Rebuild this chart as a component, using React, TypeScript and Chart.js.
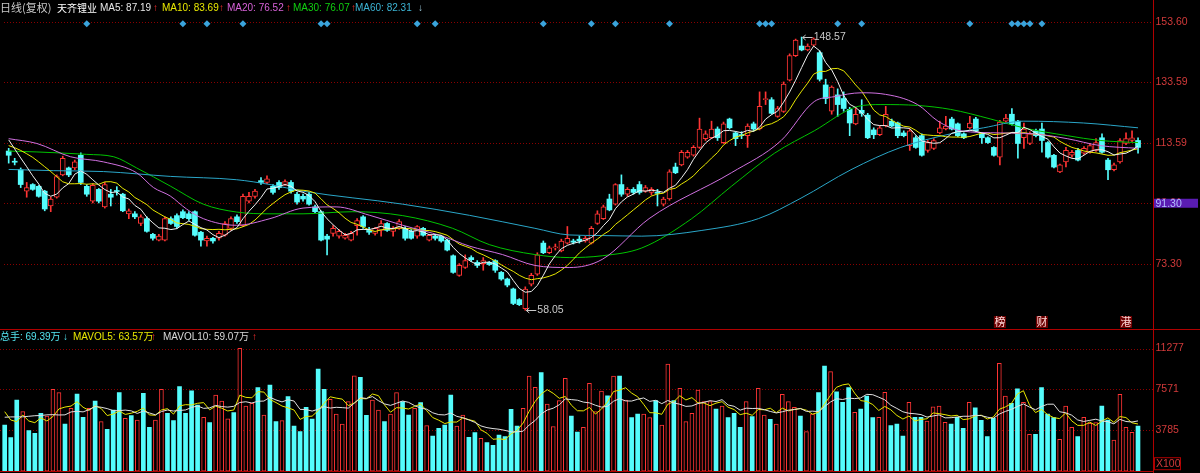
import React, { useEffect, useRef } from "react";
import { Chart, registerables } from "chart.js";

Chart.register(...registerables);

// ---------------- data ----------------
const opens = [
  110.8, 107.3, 104.6, 97.5, 99.7, 99.1, 97.5, 92.6, 95.5, 102.9,
  105.2, 105.2, 109.4, 99.1, 94.2, 98.1, 92.3, 96.5, 97.6, 96.5,
  90.0, 90.0, 86.8, 88.4, 83.2, 81.3, 81.3, 88.4, 89.4, 90.7,
  90.0, 90.7, 83.9, 81.0, 81.9, 81.9, 82.9, 85.2, 89.0, 86.1,
  94.2, 95.8, 101.0, 100.4, 99.1, 100.4, 99.7, 100.4, 96.5, 95.8,
  96.5, 92.3, 90.7, 82.6, 83.5, 82.6, 81.9, 81.3, 86.1, 89.0,
  84.5, 83.5, 84.5, 86.8, 84.2, 85.2, 85.2, 84.2, 82.6, 85.2,
  81.3, 82.6, 82.6, 81.3, 76.1, 69.6, 72.2, 75.5, 73.9, 73.5,
  73.9, 74.5, 70.6, 68.4, 65.1, 61.6, 58.6, 66.7, 70.0, 80.3,
  77.1, 78.7, 77.7, 80.3, 81.0, 81.6, 81.0, 80.3, 86.8, 88.4,
  94.9, 93.2, 99.7, 96.5, 98.1, 99.7, 97.5, 97.1, 97.1, 93.2,
  94.9, 105.5, 106.2, 108.8, 109.4, 112.0, 114.9, 115.2, 118.1, 113.6,
  121.4, 116.8, 116.2, 115.9, 119.8, 118.1, 127.8, 127.8, 122.3, 123.9,
  134.3, 142.4, 145.6, 144.3, 145.9, 143.4, 132.7, 124.0, 129.4, 128.2,
  124.6, 119.8, 124.3, 122.7, 117.8, 116.2, 119.1, 120.7, 120.1, 116.8,
  112.6, 115.2, 115.9, 111.0, 111.7, 116.8, 118.1, 121.4, 119.8, 116.5,
  118.5, 121.4, 116.5, 115.2, 112.0, 108.8, 120.7, 123.0, 120.7, 115.2,
  113.3, 117.5, 118.1, 113.6, 109.4, 103.9, 107.2, 109.4, 111.0, 110.1,
  110.4, 111.0, 115.2, 107.8, 104.6, 107.2, 113.3, 114.3, 114.3,
];
const highs = [
  111.7, 108.4, 105.2, 100.4, 100.0, 99.4, 97.8, 95.5, 102.9, 109.1,
  105.5, 107.8, 110.2, 99.7, 100.0, 98.4, 100.4, 98.1, 99.0, 96.8,
  91.6, 90.7, 89.7, 89.0, 83.5, 83.2, 89.0, 89.0, 90.0, 91.3,
  90.7, 91.0, 84.2, 82.6, 82.2, 84.2, 87.4, 89.0, 89.7, 96.5,
  97.1, 98.1, 102.0, 102.6, 99.7, 101.0, 101.3, 101.0, 97.1, 96.5,
  97.1, 92.9, 91.0, 83.2, 86.1, 84.8, 83.5, 84.2, 88.4, 89.4,
  85.5, 85.5, 87.8, 87.1, 85.8, 88.1, 85.8, 84.8, 86.1, 85.5,
  83.2, 83.2, 82.9, 81.6, 76.4, 73.5, 76.4, 76.1, 74.5, 75.5,
  74.2, 74.8, 70.9, 68.7, 65.4, 61.9, 65.8, 70.3, 77.1, 81.0,
  79.3, 80.0, 81.6, 85.8, 81.6, 82.6, 82.6, 85.8, 91.0, 92.9,
  96.5, 100.0, 102.9, 98.7, 98.7, 100.7, 99.4, 98.7, 98.1, 95.5,
  104.6, 106.8, 111.0, 111.0, 112.6, 121.7, 117.5, 120.7, 118.8, 120.4,
  121.7, 117.2, 117.2, 119.8, 120.4, 130.4, 130.4, 128.5, 125.6, 133.7,
  143.0, 147.9, 148.57, 146.3, 148.3, 144.0, 134.6, 132.4, 131.4, 130.4,
  125.3, 125.3, 127.8, 123.3, 118.5, 119.1, 125.6, 121.4, 120.4, 117.5,
  118.1, 115.9, 116.5, 114.3, 114.9, 120.7, 122.3, 122.0, 120.1, 116.8,
  122.3, 122.0, 116.8, 115.5, 112.3, 121.0, 123.0, 124.9, 121.0, 120.1,
  117.2, 118.1, 120.1, 113.9, 109.7, 106.5, 112.0, 111.0, 111.7, 112.3,
  113.3, 114.9, 116.5, 108.4, 106.8, 114.9, 116.8, 117.5, 115.2,
];
const lows = [
  106.8, 106.2, 98.7, 95.5, 97.8, 95.5, 91.0, 90.7, 95.2, 102.6,
  102.3, 104.6, 99.7, 95.8, 93.6, 93.6, 91.9, 92.6, 96.2, 90.7,
  88.4, 88.4, 86.1, 83.9, 81.3, 81.0, 81.0, 86.5, 85.2, 88.4,
  87.8, 82.6, 79.3, 79.3, 80.3, 81.3, 82.6, 84.5, 86.8, 85.8,
  93.6, 95.2, 99.7, 100.0, 96.5, 98.1, 99.4, 96.8, 93.2, 94.2,
  92.9, 90.3, 81.0, 76.4, 82.6, 81.9, 81.6, 81.0, 82.9, 85.2,
  83.2, 82.9, 82.6, 84.2, 82.6, 84.8, 81.3, 81.6, 81.9, 82.6,
  81.0, 81.3, 80.6, 77.7, 70.3, 69.3, 71.9, 74.2, 72.2, 71.3,
  72.9, 70.6, 68.0, 65.8, 59.9, 59.6, 58.05, 66.1, 69.6, 76.8,
  76.8, 78.0, 77.4, 80.0, 80.0, 80.3, 80.6, 80.0, 86.5, 88.1,
  91.0, 92.9, 95.8, 95.8, 96.5, 96.5, 97.1, 96.2, 92.6, 92.6,
  94.5, 103.3, 105.9, 108.4, 109.1, 111.7, 114.3, 114.9, 114.3, 113.3,
  118.1, 112.6, 114.9, 112.0, 117.5, 117.8, 126.2, 123.0, 122.0, 123.6,
  134.0, 142.1, 144.0, 144.0, 145.6, 134.0, 126.5, 123.0, 122.3, 124.0,
  115.9, 119.5, 122.3, 114.9, 114.9, 115.9, 118.8, 118.8, 115.2, 115.5,
  111.0, 111.7, 109.1, 110.4, 111.3, 116.5, 117.8, 117.8, 115.5, 114.9,
  118.1, 117.2, 113.3, 113.3, 109.1, 106.2, 120.4, 119.4, 108.4, 111.7,
  112.9, 115.5, 110.4, 108.4, 105.2, 103.6, 105.5, 108.8, 107.5, 109.7,
  110.1, 110.7, 110.1, 101.3, 104.2, 106.8, 112.9, 113.9, 110.1,
];
const closes = [
  109.4, 107.1, 99.7, 98.7, 98.1, 95.8, 91.6, 94.9, 102.3, 108.4,
  102.9, 107.2, 100.4, 96.5, 99.4, 94.2, 99.7, 95.5, 97.4, 91.0,
  91.0, 89.0, 89.0, 84.2, 81.9, 82.6, 88.4, 86.8, 85.8, 88.7,
  88.4, 82.9, 81.3, 81.9, 81.0, 83.5, 86.8, 88.4, 87.4, 95.8,
  95.8, 97.5, 100.4, 101.6, 97.1, 98.7, 100.7, 97.5, 93.9, 94.9,
  93.2, 90.7, 81.3, 81.6, 85.2, 84.2, 82.9, 83.5, 87.8, 85.8,
  83.9, 85.2, 86.8, 84.5, 85.2, 87.4, 81.9, 81.9, 85.8, 82.9,
  82.9, 81.9, 81.0, 78.0, 70.6, 72.9, 74.5, 74.8, 72.9, 74.5,
  73.2, 71.3, 68.4, 66.4, 60.3, 59.9, 65.1, 69.6, 76.4, 77.1,
  78.7, 79.0, 81.0, 81.9, 80.6, 81.0, 81.9, 85.2, 90.0, 92.3,
  91.3, 99.7, 96.5, 98.1, 97.1, 97.1, 98.7, 98.1, 96.8, 94.9,
  103.9, 103.6, 110.4, 110.4, 112.0, 118.1, 116.5, 118.1, 115.2, 119.8,
  118.5, 114.9, 115.9, 119.1, 118.1, 125.6, 128.2, 123.3, 124.9, 133.0,
  142.4, 147.6, 144.3, 145.6, 148.0, 134.6, 128.2, 132.0, 126.2, 124.9,
  120.1, 123.0, 123.3, 115.2, 116.2, 118.5, 123.0, 119.1, 115.9, 115.9,
  117.5, 112.0, 109.4, 113.6, 114.3, 118.5, 119.1, 118.1, 115.9, 115.2,
  120.1, 117.5, 115.2, 113.6, 109.4, 120.4, 121.7, 119.8, 113.3, 118.1,
  116.5, 115.9, 114.3, 108.8, 105.5, 106.2, 111.0, 110.4, 107.8, 111.7,
  112.6, 113.6, 110.4, 104.6, 106.2, 114.3, 114.9, 115.2, 112.0,
];
// volume in units of 100 shares
const volumes = [
  4247, 3080, 6545, 5470, 3723, 3484, 5323, 5074, 7529, 7217,
  4339, 5782, 7097, 4955, 5782, 6453, 4551, 3852, 5626, 7217,
  4863, 5102, 4707, 7161, 4036, 4707, 7529, 5323, 4643, 7768,
  5323, 7400, 6086, 4955, 4459, 7005, 6453, 4826, 5378, 11298,
  5994, 6242, 7676, 5166, 7924, 4551, 4643, 6849, 4155, 3631,
  5874, 4799, 9395, 7529, 6610, 5258, 4339, 6389, 8779, 8632,
  5139, 6545, 5626, 4551, 5258, 7217, 6389, 5166, 5782, 6297,
  4183, 3236, 3944, 4247, 7005, 4155, 5166, 3116, 3539, 3024,
  2620, 2381, 3328, 3172, 5690, 4155, 5782, 8752, 7713, 9055,
  6178, 4091, 6481, 8540, 5074, 3604, 4036, 8081, 5470, 7373,
  6939, 8752, 8752, 6545, 4918, 5258, 5258, 4918, 6481, 4247,
  9855, 6481, 7621, 4551, 5323, 7465, 6389, 6389, 5718, 5994,
  4918, 5323, 4036, 6389, 5010, 7621, 5166, 4771, 4339, 7069,
  6389, 5874, 5074, 3631, 5258, 7217, 9671, 9147, 7308, 6334,
  7676, 5415, 5718, 6913, 4918, 4955, 7253, 4183, 4339, 3236,
  6334, 4955, 4955, 4615, 5929, 5994, 4495, 4339, 4955, 3944,
  6334, 5837, 4679, 3172, 4863, 9919, 6913, 6242, 7584, 6334,
  3392, 3392, 7676, 5258, 4918, 2933, 5994, 4036, 3172, 4955,
  4403, 4459, 5994, 4707, 2868, 7069, 4036, 3576, 4155,
];

// moving-average values visible at the left edge (window starts before the chart)
const ma5Head = [114.5, 111.5, 108.5, 105.6];
const ma10Head = [112.6, 111.9, 111.0, 109.9, 108.7, 107.2, 105.6, 104.0, 102.3];
const mavol5Head = [5470, 4707, 4551, 5166];
const mavol10Head = [4960, 4990, 4990, 5000, 5050, 5100, 5120, 5180, 5200];

// long moving averages (candle index, price)
const ma20Idx = [0, 4.7, 10.3, 15.8, 21.3, 24.1, 26.9, 29.6, 32.4, 37.9, 43.5, 49, 54.5, 60.1, 65.6, 72.2, 76.7, 82.2, 87.6, 93.3, 98.8, 106.6, 120.3, 128.6, 134.1, 137.4, 141.9, 145.2, 151.3, 154.7, 158.5, 165.1, 170.6, 176.2, 181.7, 188];
const ma20Val = [114.9, 113.3, 108.9, 107.2, 103.6, 98.7, 95.9, 91.6, 88.4, 86.2, 88.4, 91.9, 92.3, 89.5, 86.2, 82.6, 79.3, 76.5, 72.9, 72.2, 74.9, 88.4, 103.6, 114.3, 127.2, 128.8, 130.1, 129.8, 126.2, 120.7, 117.5, 116.8, 116.5, 114.9, 112.6, 111.7];
const ma30Idx = [0, 4.7, 13, 17.5, 21.3, 26.9, 32.4, 37.9, 43.5, 49, 57.3, 65.6, 73.9, 80, 87.6, 93.3, 98.8, 105.4, 113.7, 120.3, 127.5, 134.1, 141.4, 145.2, 151.3, 156.8, 163.5, 168.9, 176.2, 181.7, 188];
const ma30Val = [110.8, 110.5, 109.7, 108.9, 105.2, 99.2, 93.2, 90.6, 90.0, 90.0, 90.7, 89.4, 85.2, 79.8, 76.5, 75.5, 76.1, 78.7, 88.4, 99.1, 110.1, 117.5, 125.6, 126.2, 125.9, 124.6, 121.4, 118.5, 115.9, 114.3, 113.6];
const ma60Idx = [0, 7.5, 15.8, 26.9, 37.9, 43.5, 49, 65.6, 76.7, 87.6, 93.3, 98.8, 105.4, 115.4, 124.8, 131.9, 140.2, 148.5, 156.8, 162.3, 168.9, 178.9, 188];
const ma60Val = [104.7, 104.3, 104.0, 102.4, 101.3, 99.7, 97.5, 93.2, 89.5, 85.2, 83.0, 82.8, 82.6, 84.5, 88.4, 95.2, 104.6, 112.0, 116.5, 118.5, 120.7, 120.1, 118.5];

// signal diamonds along the top
const signalIdx = [13, 29, 33, 39, 52, 53, 68, 71, 89, 97, 101, 110, 125, 126, 127, 138, 142, 160, 167, 168, 169, 170, 172];
const signalLevel = 153.0;

// axis ticks
const priceTicks = [153.6, 133.59, 113.59, 93.61, 73.3];
const volTicks = [11277, 7571, 3785];
const cursorPrice = 91.3;
const cursorLevel = 93.5;
const highMark = { i: 132, v: 148.57 };
const lowMark = { i: 86, v: 58.05 };
const eventMarks = [
  { i: 165, t: "榜" },
  { i: 172, t: "财" },
  { i: 186, t: "港" },
];

// ---------------- styling ----------------
const UP = "#ff3434";
const DOWN = "#54fcfc";
const GRID = "#8a0000";
const AXIS = "#b00000";
const LABEL = "#d23a3a";
const NUM_FONT = '10.5px "Liberation Sans", Arial, sans-serif';
const LEG_FONT = '10px "Liberation Sans", Arial, "Noto Sans CJK SC", sans-serif';
const CJK_FONT = '10px "Noto Sans CJK SC", sans-serif';
const CJK_FONT_L = '11px "Noto Sans CJK SC", sans-serif';

const PRICE_H = 330;
const VOL_H = 143;
const AXIS_W = 47;
const X_MIN = -0.78;
const X_MAX = 190.49;
const PRICE_MIN = 52.83;
const PRICE_MAX = 159.52;
const VOL_MAX = 12981;

function movingAvg(src: number[], n: number, head: number[]) {
  return src.map((_, i) => {
    if (i < n - 1) return head[i];
    let s = 0;
    for (let k = i - n + 1; k <= i; k++) s += src[k];
    return s / n;
  });
}

const topLegend = [
  { t: "日线(复权)", c: "#c8c8c8", x: 0, f: CJK_FONT_L },
  { t: "天齐锂业", c: "#ffffff", x: 57, f: CJK_FONT },
  { t: "MA5: 87.19", c: "#e6e6e6", x: 100, f: LEG_FONT },
  { t: "↑", c: "#ff3030", x: 153, f: LEG_FONT },
  { t: "MA10: 83.69", c: "#e8e800", x: 162, f: LEG_FONT },
  { t: "↑", c: "#ff3030", x: 219, f: LEG_FONT },
  { t: "MA20: 76.52", c: "#d862d8", x: 227, f: LEG_FONT },
  { t: "↑", c: "#ff3030", x: 286, f: LEG_FONT },
  { t: "MA30: 76.07", c: "#10d010", x: 293, f: LEG_FONT },
  { t: "↑", c: "#ff3030", x: 351, f: LEG_FONT },
  { t: "MA60: 82.31", c: "#3cb4d4", x: 355, f: LEG_FONT },
  { t: "↓", c: "#9cc8d8", x: 418, f: LEG_FONT },
];
const volLegend = [
  { t: "总手: 69.39万", c: "#54e4f0", x: 0 },
  { t: "↓", c: "#54e4f0", x: 63 },
  { t: "MAVOL5: 63.57万", c: "#e8e800", x: 73 },
  { t: "↑", c: "#ff3030", x: 151 },
  { t: "MAVOL10: 59.07万", c: "#d8d8d8", x: 163 },
  { t: "↑", c: "#ff3030", x: 252 },
];

const pricePlugin = {
  id: "priceDecor",
  beforeDatasetsDraw(chart: any) {
    const { ctx, chartArea: ca, scales } = chart;
    ctx.save();
    ctx.strokeStyle = GRID;
    ctx.lineWidth = 1;
    ctx.setLineDash([1, 2]);
    for (const t of priceTicks) {
      const y = Math.round(scales.y.getPixelForValue(t)) + 0.5;
      ctx.beginPath();
      ctx.moveTo(ca.left, y);
      ctx.lineTo(ca.right + 2, y);
      ctx.stroke();
    }
    ctx.restore();
  },
  afterDraw(chart: any) {
    const { ctx, chartArea: ca, scales, width, height } = chart;
    const xs = scales.x;
    const ys = scales.y;
    const ax = Math.round(ca.right) + 0.5;
    ctx.save();
    ctx.setLineDash([]);
    ctx.strokeStyle = AXIS;
    ctx.lineWidth = 1;
    ctx.beginPath();
    ctx.moveTo(ax, 0);
    ctx.lineTo(ax, height);
    ctx.moveTo(0, height - 0.5);
    ctx.lineTo(width, height - 0.5);
    ctx.stroke();

    ctx.textBaseline = "middle";
    ctx.textAlign = "left";
    ctx.font = NUM_FONT;
    ctx.fillStyle = LABEL;
    for (const t of priceTicks) ctx.fillText(t.toFixed(2), ax + 2, ys.getPixelForValue(t));

    // cursor price box
    const cy = ys.getPixelForValue(cursorLevel);
    ctx.fillStyle = "#5a1cb2";
    ctx.fillRect(ax + 0.5, cy - 4.5, width - ax - 2.5, 9);
    ctx.fillStyle = "#b4c0ff";
    ctx.fillText(cursorPrice.toFixed(2), ax + 2, cy + 0.5);

    // legend
    for (const p of topLegend) {
      ctx.font = p.f;
      ctx.fillStyle = p.c;
      ctx.fillText(p.t, p.x, 8);
    }

    // high / low markers
    ctx.strokeStyle = "#c8c8c8";
    ctx.fillStyle = "#c8c8c8";
    ctx.font = NUM_FONT;
    const drawMark = (i: number, v: number) => {
      const px = xs.getPixelForValue(i);
      const py = Math.round(ys.getPixelForValue(v)) + 0.5;
      ctx.beginPath();
      ctx.moveTo(px + 1, py);
      ctx.lineTo(px + 11, py);
      ctx.moveTo(px + 1, py);
      ctx.lineTo(px + 4, py - 2.5);
      ctx.moveTo(px + 1, py);
      ctx.lineTo(px + 4, py + 2.5);
      ctx.stroke();
      ctx.fillText(v.toFixed(2), px + 12, py);
    };
    drawMark(highMark.i, highMark.v);
    drawMark(lowMark.i, lowMark.v);

    // event markers at the bottom
    ctx.font = CJK_FONT_L;
    ctx.textAlign = "center";
    for (const m of eventMarks) {
      const px = xs.getPixelForValue(m.i);
      ctx.fillStyle = "#6e0000";
      ctx.fillRect(px - 6, height - 14, 12, 12);
      ctx.fillStyle = "#ffd8d8";
      ctx.fillText(m.t, px, height - 8);
    }
    ctx.restore();
  },
};

const volPlugin = {
  id: "volDecor",
  beforeDatasetsDraw(chart: any) {
    const { ctx, chartArea: ca, scales } = chart;
    ctx.save();
    ctx.strokeStyle = GRID;
    ctx.lineWidth = 1;
    ctx.setLineDash([1, 2]);
    for (const t of volTicks) {
      const y = Math.round(scales.y.getPixelForValue(t)) + 0.5;
      ctx.beginPath();
      ctx.moveTo(ca.left, y);
      ctx.lineTo(ca.right + 2, y);
      ctx.stroke();
    }
    ctx.restore();
  },
  afterDraw(chart: any) {
    const { ctx, chartArea: ca, scales, width, height } = chart;
    const ys = scales.y;
    const ax = Math.round(ca.right) + 0.5;
    ctx.save();
    ctx.setLineDash([]);
    ctx.strokeStyle = AXIS;
    ctx.lineWidth = 1;
    ctx.beginPath();
    ctx.moveTo(ax, 0);
    ctx.lineTo(ax, height);
    ctx.moveTo(0, Math.round(ca.bottom) + 0.5);
    ctx.lineTo(ax, Math.round(ca.bottom) + 0.5);
    ctx.stroke();
    ctx.textBaseline = "middle";
    ctx.textAlign = "left";
    ctx.font = NUM_FONT;
    ctx.fillStyle = LABEL;
    for (const t of volTicks) ctx.fillText(String(t), ax + 2, ys.getPixelForValue(t));
    // unit box
    ctx.strokeStyle = AXIS;
    ctx.strokeRect(ax + 1, ca.bottom - 13.5, 26, 12);
    ctx.fillText("X100", ax + 2.5, ca.bottom - 7);
    // legend
    ctx.font = LEG_FONT;
    for (const p of volLegend) {
      ctx.fillStyle = p.c;
      ctx.fillText(p.t, p.x, 7);
    }
    ctx.restore();
  },
};

export default function App() {
  const priceRef = useRef<HTMLCanvasElement>(null);
  const volRef = useRef<HTMLCanvasElement>(null);

  useEffect(() => {
    document.body.style.margin = "0";
    document.body.style.background = "#000";
    const idx = closes.map((_, i) => i);
    const upIdx = idx.filter((i) => closes[i] >= opens[i]);
    const downIdx = idx.filter((i) => closes[i] < opens[i]);

    const ma5 = movingAvg(closes, 5, ma5Head);
    const ma10 = movingAvg(closes, 10, ma10Head);
    const mv5 = movingAvg(volumes, 5, mavol5Head);
    const mv10 = movingAvg(volumes, 10, mavol10Head);

    const lineDs = (data: any[], color: string, smooth: boolean, order = 1) => ({
      type: "line",
      data,
      borderColor: color,
      borderWidth: 1,
      pointRadius: 0,
      fill: false,
      cubicInterpolationMode: smooth ? "monotone" : "default",
      tension: 0,
      order,
    });

    const xScale = {
      type: "linear",
      display: false,
      min: X_MIN,
      max: X_MAX,
      offset: false,
      bounds: "data",
    };

    const priceChart = new Chart(priceRef.current as HTMLCanvasElement, {
      type: "bar",
      data: {
        datasets: [
          {
            type: "bar",
            data: upIdx.map((i) => ({ x: i, y: [lows[i], highs[i]] })),
            backgroundColor: UP,
            barThickness: 1,
            grouped: false,
            order: 5,
          },
          {
            type: "bar",
            data: downIdx.map((i) => ({ x: i, y: [lows[i], highs[i]] })),
            backgroundColor: DOWN,
            barThickness: 1,
            grouped: false,
            order: 5,
          },
          {
            type: "bar",
            data: upIdx.map((i) => ({ x: i, y: [opens[i], closes[i]] })),
            backgroundColor: "#000000",
            borderColor: UP,
            borderWidth: 1,
            borderSkipped: false,
            barThickness: 5,
            minBarLength: 1,
            grouped: false,
            order: 4,
          },
          {
            type: "bar",
            data: downIdx.map((i) => ({ x: i, y: [opens[i], closes[i]] })),
            backgroundColor: DOWN,
            borderColor: DOWN,
            borderWidth: 0,
            barThickness: 5,
            minBarLength: 1,
            grouped: false,
            order: 4,
          },
          lineDs(ma60Idx.map((x, k) => ({ x, y: ma60Val[k] })), "#2aa6c8", true, 3),
          lineDs(ma30Idx.map((x, k) => ({ x, y: ma30Val[k] })), "#00c400", true, 3),
          lineDs(ma20Idx.map((x, k) => ({ x, y: ma20Val[k] })), "#d070e0", true, 2),
          lineDs(idx.map((i) => ({ x: i, y: ma10[i] })), "#e8e800", false, 2),
          lineDs(idx.map((i) => ({ x: i, y: ma5[i] })), "#f0f0f0", false, 1),
          {
            type: "line",
            data: signalIdx.map((i) => ({ x: i, y: signalLevel })),
            showLine: false,
            pointStyle: "rectRot",
            pointRadius: 3.5,
            pointBackgroundColor: "#3aa4dc",
            pointBorderWidth: 0,
            order: 0,
          },
        ],
      } as any,
      options: {
        responsive: false,
        maintainAspectRatio: false,
        animation: false,
        events: [],
        devicePixelRatio: 1,
        layout: { padding: { left: 0, right: AXIS_W, top: 0, bottom: 0 } },
        plugins: { legend: { display: false }, tooltip: { enabled: false } },
        scales: {
          x: xScale,
          y: { type: "linear", display: false, min: PRICE_MIN, max: PRICE_MAX, bounds: "data" },
        },
      } as any,
      plugins: [pricePlugin],
    });

    const volChart = new Chart(volRef.current as HTMLCanvasElement, {
      type: "bar",
      data: {
        datasets: [
          {
            type: "bar",
            data: upIdx.map((i) => ({ x: i, y: volumes[i] })),
            backgroundColor: "#000000",
            borderColor: UP,
            borderWidth: 1,
            borderSkipped: false,
            barThickness: 4,
            grouped: false,
            order: 3,
          },
          {
            type: "bar",
            data: downIdx.map((i) => ({ x: i, y: volumes[i] })),
            backgroundColor: DOWN,
            borderWidth: 0,
            barThickness: 4,
            grouped: false,
            order: 3,
          },
          lineDs(idx.map((i) => ({ x: i, y: mv10[i] })), "#e0e0e0", false, 1),
          lineDs(idx.map((i) => ({ x: i, y: mv5[i] })), "#e8e800", false, 1),
        ],
      } as any,
      options: {
        responsive: false,
        maintainAspectRatio: false,
        animation: false,
        events: [],
        devicePixelRatio: 1,
        layout: { padding: { left: 0, right: AXIS_W, top: 0, bottom: 1.8 } },
        plugins: { legend: { display: false }, tooltip: { enabled: false } },
        scales: {
          x: xScale,
          y: { type: "linear", display: false, min: 0, max: VOL_MAX, bounds: "data" },
        },
      } as any,
      plugins: [volPlugin],
    });

    return () => {
      priceChart.destroy();
      volChart.destroy();
    };
  }, []);

  return (
    <div style={{ width: 1200, height: 473, background: "#000", overflow: "hidden" }}>
      <canvas ref={priceRef} width={1200} height={PRICE_H} style={{ display: "block" }} />
      <canvas ref={volRef} width={1200} height={VOL_H} style={{ display: "block" }} />
    </div>
  );
}
